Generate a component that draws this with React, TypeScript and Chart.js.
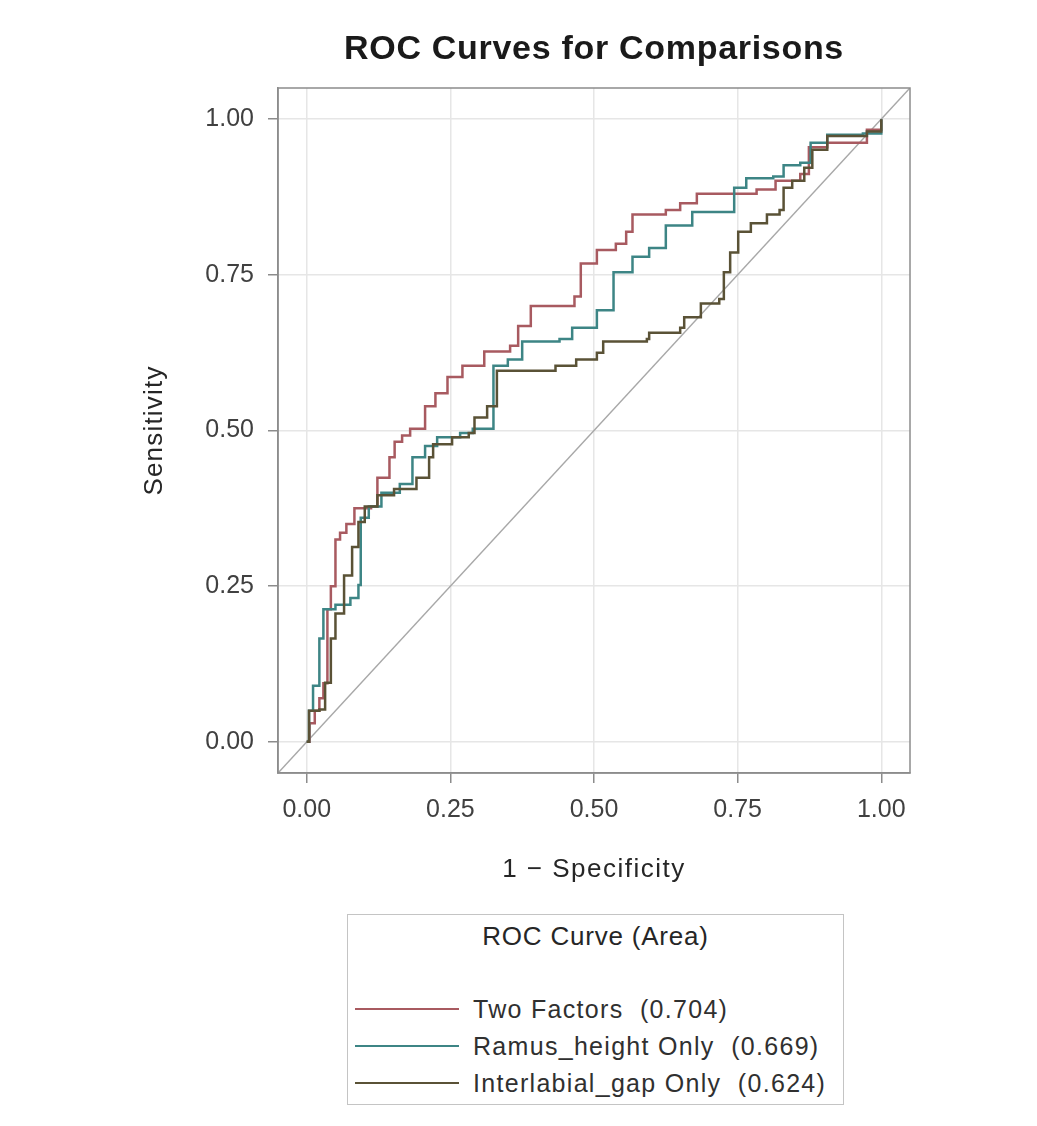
import React, { useEffect, useRef } from "react";
import { Chart, registerables } from "chart.js";

Chart.register(...registerables);

const chartTitle = "ROC Curves for Comparisons";
const xAxisTitle = "1 − Specificity";
const yAxisTitle = "Sensitivity";
const legendTitle = "ROC Curve (Area)";
const tickValues = [0, 0.25, 0.5, 0.75, 1.0];
const seriesNames = ["Two Factors", "Ramus_height Only", "Interlabial_gap Only"];
const seriesAreas = ["0.704", "0.669", "0.624"];
const seriesColors = ["#a85a60", "#3d8585", "#5a5236"];

const twoFactorsFpr = [0, 0.005, 0.014, 0.022, 0.029, 0.036, 0.042, 0.05, 0.058, 0.069, 0.083, 0.112, 0.123, 0.144, 0.153, 0.166, 0.18, 0.206, 0.224, 0.245, 0.271, 0.309, 0.354, 0.368, 0.39, 0.466, 0.477, 0.505, 0.538, 0.556, 0.567, 0.625, 0.65, 0.679, 0.744, 0.783, 0.816, 0.859, 0.874, 0.906, 0.968, 0.975, 1.0];
const twoFactorsTpr = [0, 0.03, 0.05, 0.07, 0.094, 0.213, 0.25, 0.325, 0.336, 0.35, 0.375, 0.378, 0.424, 0.457, 0.482, 0.492, 0.503, 0.539, 0.56, 0.586, 0.604, 0.627, 0.636, 0.668, 0.7, 0.715, 0.768, 0.79, 0.8, 0.819, 0.847, 0.854, 0.865, 0.88, 0.88, 0.887, 0.901, 0.912, 0.955, 0.962, 0.962, 0.983, 1.0];

const ramusFpr = [0, 0.004, 0.011, 0.022, 0.029, 0.05, 0.076, 0.09, 0.094, 0.108, 0.13, 0.162, 0.184, 0.206, 0.227, 0.267, 0.289, 0.325, 0.35, 0.375, 0.44, 0.462, 0.505, 0.534, 0.567, 0.596, 0.625, 0.671, 0.744, 0.765, 0.812, 0.83, 0.859, 0.877, 0.906, 0.968, 1.0];
const ramusTpr = [0, 0.05, 0.09, 0.166, 0.213, 0.22, 0.231, 0.252, 0.36, 0.378, 0.4, 0.414, 0.457, 0.475, 0.489, 0.496, 0.503, 0.604, 0.614, 0.643, 0.647, 0.665, 0.693, 0.754, 0.779, 0.793, 0.829, 0.851, 0.89, 0.905, 0.908, 0.926, 0.93, 0.962, 0.975, 0.977, 1.0];

const interlabialFpr = [0, 0.004, 0.022, 0.032, 0.042, 0.05, 0.065, 0.079, 0.09, 0.101, 0.123, 0.152, 0.191, 0.213, 0.22, 0.253, 0.282, 0.292, 0.314, 0.331, 0.368, 0.433, 0.469, 0.505, 0.516, 0.592, 0.596, 0.65, 0.657, 0.686, 0.718, 0.726, 0.737, 0.751, 0.773, 0.801, 0.823, 0.83, 0.845, 0.866, 0.88, 0.906, 0.975, 1.0];
const interlabialTpr = [0, 0.05, 0.052, 0.095, 0.166, 0.206, 0.267, 0.313, 0.353, 0.378, 0.396, 0.406, 0.424, 0.457, 0.478, 0.489, 0.496, 0.521, 0.539, 0.596, 0.596, 0.604, 0.614, 0.625, 0.643, 0.647, 0.657, 0.665, 0.682, 0.704, 0.711, 0.754, 0.786, 0.819, 0.833, 0.847, 0.854, 0.89, 0.901, 0.922, 0.951, 0.973, 0.98, 1.0];

const diagonalX = [-0.05, 1.05];
const diagonalY = [-0.05, 1.05];

const FONT = "'Liberation Sans', Arial, sans-serif";

const zip = (xs: number[], ys: number[]) => xs.map((x, i) => ({ x, y: ys[i] }));

const framePlugin = {
  id: "frameAndTitles",
  afterDraw(chart: any) {
    const { ctx, chartArea } = chart;
    const cx = (chartArea.left + chartArea.right) / 2;
    const cy = (chartArea.top + chartArea.bottom) / 2;
    ctx.save();
    ctx.strokeStyle = "#8c8c8c";
    ctx.lineWidth = 1.5;
    ctx.strokeRect(chartArea.left, chartArea.top, chartArea.right - chartArea.left, chartArea.bottom - chartArea.top);

    ctx.textAlign = "center";
    ctx.textBaseline = "middle";

    ctx.fillStyle = "#1a1a1a";
    ctx.font = `bold 34px ${FONT}`;
    (ctx as any).letterSpacing = "0.7px";
    ctx.fillText(chartTitle, cx, 42);

    ctx.fillStyle = "#262626";
    ctx.font = `26px ${FONT}`;
    (ctx as any).letterSpacing = "1.5px";
    ctx.fillText(xAxisTitle, cx, 862);

    (ctx as any).letterSpacing = "1.2px";
    ctx.translate(147, cy);
    ctx.rotate(-Math.PI / 2);
    ctx.fillText(yAxisTitle, 0, 0);
    ctx.restore();
  },
};

export default function App() {
  const canvasRef = useRef<HTMLCanvasElement>(null);

  useEffect(() => {
    const canvas = canvasRef.current;
    if (!canvas) return;
    const fixTicks = (scale: any) => {
      scale.ticks = tickValues.map((v) => ({ value: v }));
    };
    const chart = new Chart(canvas, {
      type: "line",
      data: {
        datasets: [
          {
            label: "diag",
            data: zip(diagonalX, diagonalY),
            borderColor: "#a8a8a8",
            borderWidth: 1.5,
            pointRadius: 0,
            order: 4,
          },
          {
            label: seriesNames[0],
            data: zip(twoFactorsFpr, twoFactorsTpr),
            borderColor: seriesColors[0],
            borderWidth: 2.5,
            pointRadius: 0,
            stepped: "before",
            order: 3,
          },
          {
            label: seriesNames[1],
            data: zip(ramusFpr, ramusTpr),
            borderColor: seriesColors[1],
            borderWidth: 2.5,
            pointRadius: 0,
            stepped: "before",
            order: 2,
          },
          {
            label: seriesNames[2],
            data: zip(interlabialFpr, interlabialTpr),
            borderColor: seriesColors[2],
            borderWidth: 2.5,
            pointRadius: 0,
            stepped: "before",
            order: 1,
          },
        ],
      },
      options: {
        animation: false,
        responsive: false,
        maintainAspectRatio: false,
        layout: { padding: { left: 0, top: 80, right: 119, bottom: 225 } },
        plugins: {
          legend: { display: false },
          title: { display: false },
          tooltip: { enabled: false },
        },
        scales: {
          x: {
            type: "linear",
            min: -0.05,
            max: 1.05,
            afterBuildTicks: fixTicks,
            afterFit: (scale: any) => {
              scale.height = 120;
            },
            grid: {
              color: "#e6e6e6",
              lineWidth: 1.5,
              tickColor: "#8c8c8c",
              tickLength: 10,
            },
            border: { display: true, color: "#8c8c8c", width: 1.5 },
            ticks: {
              color: "#404040",
              font: { family: FONT, size: 25 },
              padding: 12,
              maxRotation: 0,
              callback: (v: any) => Number(v).toFixed(2),
            },
            title: { display: false },
          },
          y: {
            type: "linear",
            min: -0.05,
            max: 1.05,
            afterBuildTicks: fixTicks,
            afterFit: (scale: any) => {
              scale.width = 270;
            },
            grid: {
              color: "#e6e6e6",
              lineWidth: 1.5,
              tickColor: "#8c8c8c",
              tickLength: 10,
            },
            border: { display: true, color: "#8c8c8c", width: 1.5 },
            ticks: {
              color: "#404040",
              font: { family: FONT, size: 25 },
              padding: 14,
              callback: (v: any) => Number(v).toFixed(2),
            },
            title: { display: false },
          },
        },
      },
      plugins: [framePlugin],
    });
    return () => chart.destroy();
  }, []);

  return (
    <div style={{ position: "relative", width: 1021, height: 1110, fontFamily: FONT }}>
      <canvas ref={canvasRef} width={1021} height={1110} style={{ display: "block" }} />
      <div
        style={{
          position: "absolute",
          left: 339,
          top: 906,
          width: 497,
          height: 191,
          boxSizing: "border-box",
          border: "1.5px solid #c4c4c4",
          background: "#fff",
        }}
      >
        <div
          style={{
            position: "absolute",
            top: 6,
            left: 0,
            right: 0,
            textAlign: "center",
            fontSize: 26,
            letterSpacing: "0.8px",
            color: "#262626",
            lineHeight: "30px",
          }}
        >
          {legendTitle}
        </div>
        {seriesNames.map((name, i) => (
          <div
            key={name}
            style={{
              position: "absolute",
              left: 7,
              top: 79 + i * 37,
              height: 30,
              display: "flex",
              alignItems: "center",
              whiteSpace: "pre",
              fontSize: 25,
              letterSpacing: "1.3px",
              color: "#303030",
            }}
          >
            <span
              style={{
                display: "inline-block",
                width: 104,
                height: 0,
                borderTop: `2.5px solid ${seriesColors[i]}`,
                marginRight: 14,
              }}
            />
            <span>{`${name}  (${seriesAreas[i]})`}</span>
          </div>
        ))}
      </div>
    </div>
  );
}
